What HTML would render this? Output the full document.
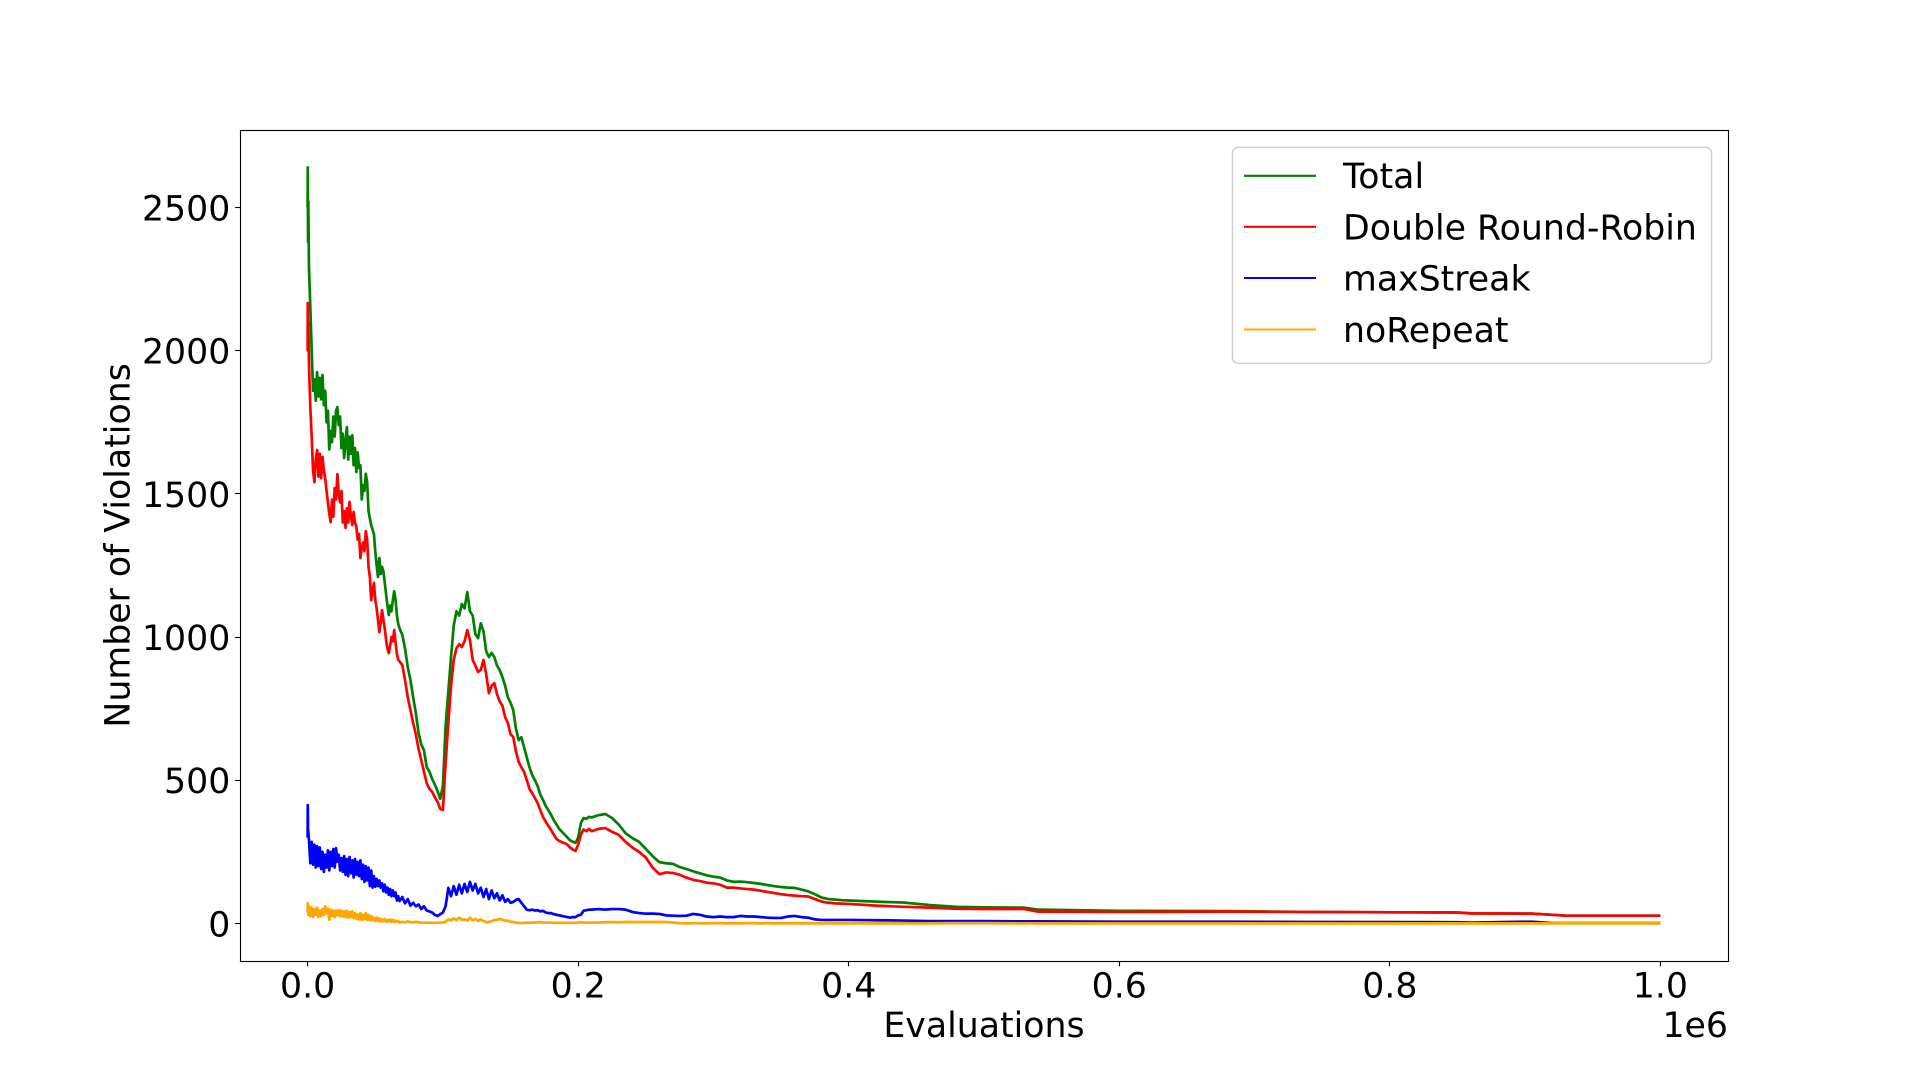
<!DOCTYPE html>
<html lang="en">
<head>
<meta charset="utf-8">
<title>Number of Violations vs Evaluations</title>
<style>
html,body{margin:0;padding:0;background:#fff;}
svg{display:block;}
text{font-family:"DejaVu Sans","Liberation Sans",sans-serif;font-size:34.72px;fill:#000;}
</style>
</head>
<body>
<svg id="chart" width="1920" height="1080" viewBox="0 0 1920 1080" xmlns="http://www.w3.org/2000/svg">
  <rect x="0" y="0" width="1920" height="1080" fill="#fff"/>
  <g id="series-layer"></g>
  <rect x="240.5" y="130.5" width="1488" height="831" fill="none" stroke="#000" stroke-width="1.11"/>
  <g id="tick-layer"></g>
  <text x="984" y="1037" text-anchor="middle">Evaluations</text>
  <text x="1728" y="1037" text-anchor="end">1e6</text>
  <text transform="translate(129.5,545.4) rotate(-90)" text-anchor="middle">Number of Violations</text>
  <g>
    <rect x="1232.4" y="147.4" width="479.2" height="216" rx="6" ry="6" fill="#fff" fill-opacity="0.8" stroke="#ccc" stroke-width="1.39"/>
    <g>
      <line x1="1244" x2="1316" y1="175.8" y2="175.8" stroke="green" stroke-width="2.08"/>
      <text x="1343" y="188">Total</text>
    </g>
    <g>
      <line x1="1244" x2="1316" y1="226.8" y2="226.8" stroke="red" stroke-width="2.08"/>
      <text x="1343" y="239.5">Double Round-Robin</text>
    </g>
    <g>
      <line x1="1244" x2="1316" y1="278" y2="278" stroke="blue" stroke-width="2.08"/>
      <text x="1343" y="290.5">maxStreak</text>
    </g>
    <g>
      <line x1="1244" x2="1316" y1="329.5" y2="329.5" stroke="orange" stroke-width="2.08"/>
      <text x="1343" y="342">noRepeat</text>
    </g>
  </g>
</svg>
<script>
const xTicks = [0, 200000, 400000, 600000, 800000, 1000000];
const xTickLabels = ["0.0", "0.2", "0.4", "0.6", "0.8", "1.0"];
const yTicks = [0, 500, 1000, 1500, 2000, 2500];
const yTickLabels = ["0", "500", "1000", "1500", "2000", "2500"];

const evaluations = [
0,100,300,500,
1000,2000,3000,4000,5000,6000,7000,8000,9000,10000,
11000,12000,13000,14000,15000,16000,17000,18000,19000,20000,
21000,22000,23000,24000,25000,26000,27000,28000,29000,30000,
31000,32000,33000,34000,35000,36000,37000,38000,39000,40000,
41000,42000,43000,44000,45000,46000,47000,48000,49000,50000,
51000,52000,53000,54000,55000,56000,57000,58000,59000,60000,
61000,62000,63000,64000,65000,66000,67000,68000,
70000,72000,74000,76000,78000,80000,82000,84000,86000,88000,
90000,92000,94000,96000,98000,100000,102000,104000,106000,108000,
110000,112000,114000,116000,118000,120000,122000,124000,126000,128000,
130000,132000,134000,136000,138000,140000,142000,144000,146000,148000,
150000,152000,154000,156000,158000,160000,162000,164000,166000,168000,
170000,172000,174000,176000,178000,180000,182000,184000,186000,188000,
190000,192000,194000,196000,198000,200000,202000,204000,206000,208000,
210000,
215000,220000,225000,230000,235000,240000,245000,250000,255000,260000,
265000,270000,275000,280000,285000,290000,295000,300000,305000,310000,
315000,320000,325000,330000,335000,340000,345000,350000,355000,360000,
365000,370000,375000,380000,385000,390000,395000,400000,
420000,440000,460000,480000,500000,530000,540000,600000,680000,740000,850000,860000,905000,920000,930000,1000000
];

const totalViolations = [
2500,2640,2380,2520,
2290,2150,2000,1860,1900,1825,1925,1840,1905,1830,
1915,1810,1860,1750,1790,1655,1720,1680,1770,1700,
1790,1803,1740,1770,1660,1710,1625,1680,1733,1620,
1700,1640,1705,1600,1660,1576,1645,1590,1600,1480,
1530,1510,1570,1540,1440,1415,1390,1375,1360,1300,
1250,1210,1276,1220,1245,1230,1190,1150,1110,1077,
1110,1090,1130,1160,1130,1075,1045,1030,
1007,960,895,850,790,735,665,625,605,546,
530,505,485,462,435,480,690,810,930,1040,
1090,1075,1115,1100,1157,1090,1075,1010,996,1048,
1020,950,930,945,930,900,885,860,830,790,
770,745,680,640,650,615,580,545,518,500,
480,450,431,410,395,379,360,345,330,320,
310,300,290,285,281,300,350,368,365,372,
370,
378,382,368,345,315,298,285,260,235,214,
210,208,197,190,182,175,168,163,160,150,
145,146,144,141,138,134,130,127,125,124,
118,112,102,90,85,83,81,80,
76,73,64,58,56,55,48,44,43,40,38,35,34,30,27,27
];

const doubleRoundRobin = [
2000,2166,2000,2100,
1950,1800,1700,1580,1541,1620,1653,1560,1640,1555,
1629,1580,1554,1510,1470,1430,1401,1480,1420,1520,
1480,1569,1500,1470,1510,1400,1440,1381,1450,1400,
1472,1420,1391,1437,1400,1385,1340,1360,1276,1310,
1330,1300,1370,1340,1245,1210,1129,1160,1189,1130,
1100,1060,1017,1050,1094,1060,1030,990,960,944,
970,1000,985,1024,980,940,920,915,
902,850,790,745,700,660,610,570,530,490,
470,460,441,425,400,396,560,700,830,920,
961,975,965,985,1024,990,920,900,878,885,
920,870,804,830,839,800,775,760,720,700,
660,651,600,564,545,529,500,470,455,438,
420,395,372,355,340,326,310,295,288,284,
280,275,265,258,253,275,310,328,322,330,
322,
330,333,320,309,285,265,250,230,195,172,
178,176,170,160,152,148,142,140,135,125,
125,122,120,118,114,110,106,102,99,97,
95,94,85,76,72,70,69,68,
62,58,55,51,50,50,41,40,41,40,38,35,34,30,27,27
];

const maxStreak = [
300,413,330,320,
290,210,285,205,275,195,270,200,265,190,
250,180,240,195,255,185,250,200,260,195,
263,215,240,185,228,180,235,170,225,165,
232,175,220,160,225,170,215,165,220,155,
205,145,200,150,195,130,185,125,165,128,
155,130,150,125,140,112,135,108,125,100,
120,95,115,95,108,80,95,78,
92,70,85,62,72,60,66,50,60,45,
42,38,30,26,32,38,60,124,95,130,
100,135,105,138,110,145,115,138,105,125,
92,120,85,115,88,105,80,98,75,85,
72,75,82,85,72,60,48,46,48,45,
46,42,44,38,36,36,32,30,28,26,
24,22,20,22,22,28,30,44,46,48,
48,
50,48,50,50,48,40,36,34,34,33,
28,27,26,27,33,30,24,22,24,22,
22,26,24,24,22,20,19,19,24,26,
22,20,14,12,12,12,12,12,
11,10,8,8,8,7,7,6,6,5,4,3,6,1,1,1
];

const noRepeat = [
40,71,50,30,
60,25,55,22,50,30,55,22,45,25,
50,30,60,35,52,13,48,25,45,22,
45,28,47,25,45,24,42,22,44,20,
40,22,42,18,36,16,32,14,36,12,
30,14,36,12,30,10,26,10,20,8,
20,8,18,6,14,8,15,6,12,7,
14,6,12,5,10,6,8,3,
6,3,8,4,3,6,4,3,2,3,
2,2,2,2,3,3,6,14,10,18,
12,20,13,14,10,20,11,16,9,14,
9,5,5,8,12,12,15,13,10,9,
6,5,3,2,1,2,3,2,3,3,
4,4,3,3,3,3,2,2,2,2,
2,2,2,2,2,3,4,3,3,3,
3,
3,4,5,4,5,5,5,5,5,5,
5,3,1,0,1,1,0,1,1,0,
1,0,1,1,0,1,0,1,0,1,
0,1,0,0,1,0,0,0,
0,0,0,1,1,0,0,0,0,0,0,0,0,0,0,0
];

const SVG_NS = "http://www.w3.org/2000/svg";
const xMin = -50000, xMax = 1050000, yMin = -132, yMax = 2772;
const axLeft = 240, axRight = 1728, axTop = 129.6, axBottom = 961.2;
const seriesStroke = "2.7";

function xScale(v) {
  return axLeft + (v - xMin) / (xMax - xMin) * (axRight - axLeft);
}
function yScale(v) {
  return axBottom - (v - yMin) / (yMax - yMin) * (axBottom - axTop);
}
function snap(p) {
  return Math.floor(p) + 0.5;
}
function linePoints(values) {
  return values.map(function (v, i) {
    return xScale(evaluations[i]).toFixed(2) + "," + yScale(v).toFixed(2);
  }).join(" ");
}

const seriesLayer = document.getElementById("series-layer");
const tickLayer = document.getElementById("tick-layer");

const totalLine = document.createElementNS(SVG_NS, "polyline");
totalLine.setAttribute("points", linePoints(totalViolations));
totalLine.setAttribute("fill", "none");
totalLine.setAttribute("stroke", "green");
totalLine.setAttribute("stroke-width", seriesStroke);
totalLine.setAttribute("stroke-linejoin", "round");


seriesLayer.appendChild(totalLine);

const drrLine = document.createElementNS(SVG_NS, "polyline");
drrLine.setAttribute("points", linePoints(doubleRoundRobin));
drrLine.setAttribute("fill", "none");
drrLine.setAttribute("stroke", "red");
drrLine.setAttribute("stroke-width", seriesStroke);
drrLine.setAttribute("stroke-linejoin", "round");


seriesLayer.appendChild(drrLine);

const streakLine = document.createElementNS(SVG_NS, "polyline");
streakLine.setAttribute("points", linePoints(maxStreak));
streakLine.setAttribute("fill", "none");
streakLine.setAttribute("stroke", "blue");
streakLine.setAttribute("stroke-width", seriesStroke);
streakLine.setAttribute("stroke-linejoin", "round");


seriesLayer.appendChild(streakLine);

const repeatLine = document.createElementNS(SVG_NS, "polyline");
repeatLine.setAttribute("points", linePoints(noRepeat));
repeatLine.setAttribute("fill", "none");
repeatLine.setAttribute("stroke", "orange");
repeatLine.setAttribute("stroke-width", seriesStroke);
repeatLine.setAttribute("stroke-linejoin", "round");


seriesLayer.appendChild(repeatLine);

xTicks.forEach(function (t, i) {
  const mark = document.createElementNS(SVG_NS, "line");
  mark.setAttribute("x1", snap(xScale(t)));
  mark.setAttribute("x2", snap(xScale(t)));
  mark.setAttribute("y1", axBottom);
  mark.setAttribute("y2", axBottom + 5.2);
  mark.setAttribute("stroke", "#000");
  mark.setAttribute("stroke-width", "1.11");
  
  
  tickLayer.appendChild(mark);

  const label = document.createElementNS(SVG_NS, "text");
  label.setAttribute("x", xScale(t));
  label.setAttribute("y", 997.5);
  label.setAttribute("text-anchor", "middle");
  label.textContent = xTickLabels[i];
  
  
  tickLayer.appendChild(label);
});

yTicks.forEach(function (t, i) {
  const mark = document.createElementNS(SVG_NS, "line");
  mark.setAttribute("x1", axLeft - 4.86);
  mark.setAttribute("x2", axLeft);
  mark.setAttribute("y1", snap(yScale(t)));
  mark.setAttribute("y2", snap(yScale(t)));
  mark.setAttribute("stroke", "#000");
  mark.setAttribute("stroke-width", "1.11");
  
  
  tickLayer.appendChild(mark);

  const label = document.createElementNS(SVG_NS, "text");
  label.setAttribute("x", axLeft - 9.7);
  label.setAttribute("y", yScale(t) + 13);
  label.setAttribute("text-anchor", "end");
  label.textContent = yTickLabels[i];
  
  
  tickLayer.appendChild(label);
});
</script>
</body>
</html>
